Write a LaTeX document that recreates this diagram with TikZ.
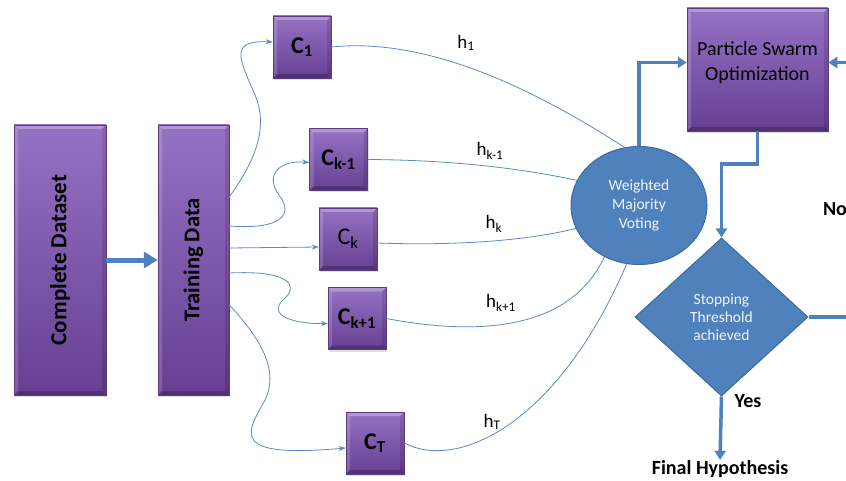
\documentclass[tikz,border=0pt]{standalone}
\usepackage{fontspec}
\setmainfont{Carlito}
\usepackage{graphicx}
\usetikzlibrary{shapes.geometric,arrows.meta,shadows}

\definecolor{boxtop}{HTML}{9672C4}
\definecolor{boxbot}{HTML}{663F92}
\definecolor{boxedge}{HTML}{5A3A80}
\definecolor{flowblue}{HTML}{4F81BD}
\definecolor{flowedge}{HTML}{3B6A9F}
\definecolor{linkblue}{HTML}{5B8AC4}

\tikzset{
	bevel/.style={path picture={
		\fill[white,opacity=.28] (path picture bounding box.north west) -- (path picture bounding box.north east) -- ([shift={(-4pt,-4pt)}]path picture bounding box.north east) -- ([shift={(4pt,-4pt)}]path picture bounding box.north west) -- cycle;
		\fill[white,opacity=.16] (path picture bounding box.north west) -- ([shift={(4pt,-4pt)}]path picture bounding box.north west) -- ([shift={(4pt,4pt)}]path picture bounding box.south west) -- (path picture bounding box.south west) -- cycle;
		\fill[black,opacity=.22] (path picture bounding box.south west) -- ([shift={(4pt,4pt)}]path picture bounding box.south west) -- ([shift={(-4pt,4pt)}]path picture bounding box.south east) -- (path picture bounding box.south east) -- cycle;
		\fill[black,opacity=.12] (path picture bounding box.north east) -- (path picture bounding box.south east) -- ([shift={(-4pt,4pt)}]path picture bounding box.south east) -- ([shift={(-4pt,-4pt)}]path picture bounding box.north east) -- cycle;
	}},
	purplebox/.style={draw=boxedge, line width=0.5pt, top color=boxtop, bottom color=boxbot, bevel, inner sep=0pt,
		drop shadow={shadow xshift=1pt, shadow yshift=-2pt, opacity=.25}},
	bigbox/.style={purplebox, minimum width=92pt, minimum height=270pt, font=\fontsize{23}{26}\selectfont\bfseries},
	clbox/.style={purplebox, minimum width=58pt, minimum height=62pt, font=\fontsize{24}{26}\selectfont},
	vote/.style={ellipse, draw=flowedge, line width=1pt, fill=flowblue, text=white!92!flowblue, align=center,
		minimum width=136pt, minimum height=118pt, inner sep=0pt, font=\fontsize{15.5}{19}\selectfont},
	decision/.style={diamond, draw=flowedge, line width=1pt, fill=flowblue, text=white!92!flowblue, align=center,
		minimum width=173pt, minimum height=158pt, inner sep=0pt, font=\fontsize{15.5}{18}\selectfont},
	link/.style={draw=linkblue, line width=0.8pt},
	linkarrow/.style={link, -{Stealth[length=7pt,width=5pt]}},
	flow/.style={draw=flowblue, line width=3.5pt, -{Triangle[length=9pt,width=11pt]}},
	hlabel/.style={font=\fontsize{19}{20}\selectfont},
	answer/.style={font=\fontsize{20}{22}\selectfont\bfseries},
}

\begin{document}
\begin{tikzpicture}[x=1pt, y=-1pt]
	\useasboundingbox (0,0) rectangle (846,481);
	\clip (0,0) rectangle (846,481); % rechter Rand abgeschnitten

	% Daten
	\node[bigbox] (cd) at (60,260) {\rotatebox{90}{Complete Dataset}};
	\node[bigbox, minimum width=71pt] (td) at (193.5,260) {\rotatebox{90}{\fontsize{22.5}{26}\selectfont Training Data}};

	% Klassifikatoren
	\node[clbox] (c1) at (302,47) {\bfseries C\textsubscript{1}};
	\node[clbox] (ckm) at (338.5,159.5) {\bfseries C\textsubscript{k-1}};
	\node[clbox] (ck) at (348,239) {C\textsubscript{k}};
	\node[clbox] (ckp) at (357,318.5) {\bfseries C\textsubscript{k+1}};
	\node[clbox] (ct) at (375,443) {\bfseries C\textsubscript{T}};

	% Abstimmung und Optimierung
	\node[vote] (vote) at (639,205.5) {Weighted\\Majority\\Voting};
	\node[purplebox, minimum width=141pt, minimum height=123pt] (pso) at (757.5,69.5) {};
	\node[align=center, font=\fontsize{20}{25}\selectfont] at ([yshift=7pt]pso.center) {Particle Swarm\\Optimization};
	\node[decision] (dec) at (721.5,317) {Stopping\\Threshold\\achieved};
	\node[answer] (final) at (720,469) {Final Hypothesis};
	\node[answer] at (748,401) {Yes};
	\node[answer] at (835,209) {No};

	% Trainingsdaten zu den Klassifikatoren
	\draw[linkarrow] ([yshift=63pt]td.east) .. controls (252,165) and (270,130) .. (255,95) .. controls (240,60) and (228,40) .. ([yshift=5pt]c1.west);
	\draw[linkarrow] ([yshift=34pt]td.east) .. controls (282,230) and (294,214) .. (279,195) .. controls (265,176) and (278,160) .. ([yshift=-3pt]ckm.west);
	\draw[linkarrow] ([yshift=12pt]td.east) -- ([yshift=-8pt]ck.west);
	\draw[linkarrow] ([yshift=-13pt]td.east) .. controls (290,270) and (300,286) .. (283,300) .. controls (268,314) and (290,324) .. ([yshift=-5pt]ckp.west);
	\draw[linkarrow] ([yshift=-45pt]td.east) .. controls (262,340) and (280,372) .. (264,402) .. controls (245,435) and (232,458) .. ([yshift=-5pt]ct.west);

	% Hypothesen zur Abstimmung
	\draw[link] (c1.east) .. controls (420,38) and (520,80) .. (vote.104);
	\draw[link] (ckm.east) .. controls (450,160) and (520,168) .. (vote.158);
	\draw[link] ([yshift=-4pt]ck.east) .. controls (460,246) and (530,240) .. (vote.200);
	\draw[link] (ckp.east) .. controls (500,340) and (575,320) .. (vote.236);
	\draw[link] (ct.east) .. controls (460,472) and (560,420) .. (vote.258);

	\node[hlabel] at (466,43) {h\textsubscript{1}};
	\node[hlabel] at (490,151) {h\textsubscript{k-1}};
	\node[hlabel] at (494,224) {h\textsubscript{k}};
	\node[hlabel] at (501,303) {h\textsubscript{k+1}};
	\node[hlabel] at (492,422) {h\textsubscript{T}};

	% Ablauf
	\draw[flow, line width=5pt, -{Triangle[length=14pt,width=16pt]}] (cd.east) -- (td.west);
	\draw[flow] (vote.north) |- ([yshift=7pt]pso.west);
	\draw[flow] (pso.south) -- ++(0,33) -| (dec.north);
	\draw[flow] (dec.south) -- ([yshift=-3pt]final.north);
	\draw[flow] (dec.east) -- (880,317) |- ([yshift=7pt]pso.east);
\end{tikzpicture}
\end{document}
